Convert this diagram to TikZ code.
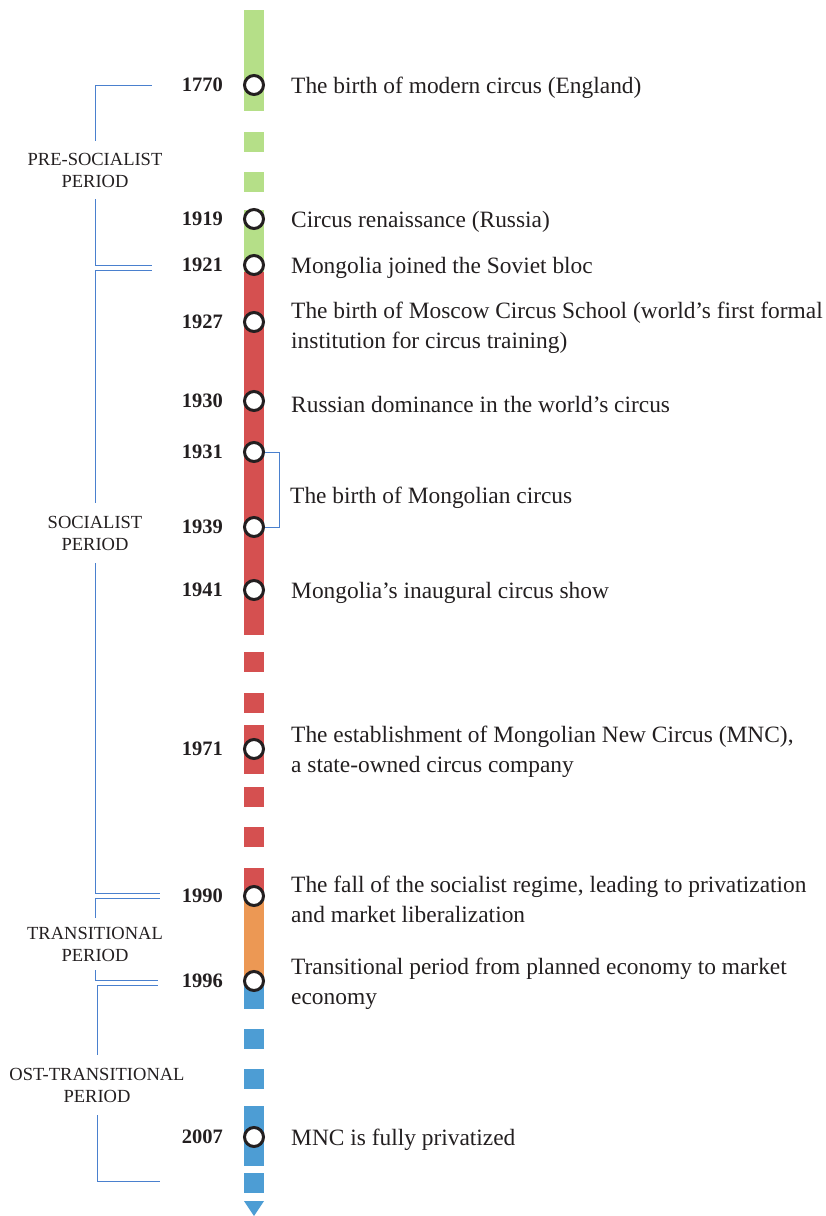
\documentclass[tikz,border=0pt]{standalone}
\usepackage{fontspec}
\setmainfont{Liberation Serif}
\usetikzlibrary{positioning}

\definecolor{barGreen}{RGB}{181,223,136}
\definecolor{barRed}{RGB}{213,80,80}
\definecolor{barOrange}{RGB}{236,152,84}
\definecolor{barBlue}{RGB}{77,157,212}
\definecolor{lineBlue}{RGB}{74,128,206}
\definecolor{ink}{RGB}{35,31,32}

\tikzset{
  dot/.style={circle, draw=ink, line width=3pt, fill=white, minimum size=19pt, inner sep=0pt},
  year/.style={inner sep=0pt, text=ink, font=\fontsize{20.5}{22}\selectfont\bfseries},
  event/.style={anchor=west, inner sep=0pt, align=left, text=ink, yshift=-3pt, font=\fontsize{23.4}{30}\selectfont},
  period/.style={lineBlue, line width=1pt},
  periodlabel/.style={inner sep=0pt, align=center, text=ink, font=\fontsize{18.5}{22}\selectfont},
}

\begin{document}
\begin{tikzpicture}[x=1pt, y=-1pt]
	\useasboundingbox (0,0) rectangle (825,1216);

	% Timeline bar
	\fill[barGreen] (244,10) rectangle (264,111);
	\foreach \y in {132,172} \fill[barGreen] (244,\y) rectangle ++(20,20);
	\fill[barGreen] (244,210) rectangle (264,272);
	\fill[barRed] (244,272) rectangle (264,635);
	\foreach \y in {652,693} \fill[barRed] (244,\y) rectangle ++(20,20);
	\fill[barRed] (244,725) rectangle (264,774);
	\foreach \y in {787,827} \fill[barRed] (244,\y) rectangle ++(20,20);
	\fill[barRed] (244,868) rectangle (264,896);
	\fill[barOrange] (244,896) rectangle (264,981);
	\fill[barBlue] (244,981) rectangle (264,1009);
	\foreach \y in {1029,1069} \fill[barBlue] (244,\y) rectangle ++(20,20);
	\fill[barBlue] (244,1106) rectangle (264,1166);
	\fill[barBlue] (244,1173) rectangle (264,1193);
	\fill[barBlue] (244,1201) -- (264,1201) -- (254,1216) -- cycle;

	% Milestones
	\node[dot] (c1770) at (254,85) {};
	\node[dot] (c1919) at (254,219) {};
	\node[dot] (c1921) at (254,265) {};
	\node[dot] (c1927) at (254,322) {};
	\node[dot] (c1930) at (254,401) {};
	\node[dot] (c1931) at (254,452) {};
	\node[dot] (c1939) at (254,527) {};
	\node[dot] (c1941) at (254,590) {};
	\node[dot] (c1971) at (254,749) {};
	\node[dot] (c1990) at (254,896) {};
	\node[dot] (c1996) at (254,981) {};
	\node[dot] (c2007) at (254,1137) {};

	% Years
	\node[year, left=20pt of c1770] (y1770) {1770};
	\node[year, left=20pt of c1919] (y1919) {1919};
	\node[year, left=20pt of c1921] (y1921) {1921};
	\node[year, left=20pt of c1927] (y1927) {1927};
	\node[year, left=20pt of c1930] (y1930) {1930};
	\node[year, left=20pt of c1931] (y1931) {1931};
	\node[year, left=20pt of c1939] (y1939) {1939};
	\node[year, left=20pt of c1941] (y1941) {1941};
	\node[year, left=20pt of c1971] (y1971) {1971};
	\node[year, left=20pt of c1990] (y1990) {1990};
	\node[year, left=20pt of c1996] (y1996) {1996};
	\node[year, left=20pt of c2007] (y2007) {2007};

	% Events
	\node[event, right=26pt of c1770] (e1770) {The birth of modern circus (England)};
	\node[event, right=26pt of c1919] (e1919) {Circus renaissance (Russia)};
	\node[event, right=26pt of c1921] (e1921) {Mongolia joined the Soviet bloc};
	\node[event, right=26pt of c1927, yshift=-3pt] (e1927) {The birth of Moscow Circus School (world's first formal\\institution for circus training)};
	\node[event, right=26pt of c1930] (e1930) {Russian dominance in the world's circus};
	\node[event] (e1931) at (290,495) {The birth of Mongolian circus};
	\node[event, right=26pt of c1941] (e1941) {Mongolia's inaugural circus show};
	\node[event, right=26pt of c1971] (e1971) {The establishment of Mongolian New Circus (MNC),\\a state-owned circus company};
	\node[event, right=26pt of c1990] (e1990) {The fall of the socialist regime, leading to privatization\\and market liberalization};
	\node[event, right=26pt of c1996] (e1996) {Transitional period from planned economy to market\\economy};
	\node[event, right=26pt of c2007] (e2007) {MNC is fully privatized};

	% Bracket 1931--1939
	\draw[period] (c1931.east) -- ++(14,0) |- (c1939.east);

	% Periods
	\node[periodlabel, minimum height=58pt] (pre) at (95,170) {PRE-SOCIALIST\\PERIOD};
	\node[periodlabel, minimum height=60pt] (soc) at (95,533) {SOCIALIST\\PERIOD};
	\node[periodlabel, minimum height=52pt] (trans) at (95,944) {TRANSITIONAL\\PERIOD};
	\node[periodlabel, minimum height=60pt] (post) at (97,1085) {OST-TRANSITIONAL\\PERIOD};

	\coordinate (preTop) at (152,85);
	\coordinate (preBot) at (152,265);
	\coordinate (socTop) at (152,270);
	\coordinate (socBot) at (160,893);
	\coordinate (transTop) at (160,898);
	\coordinate (transBot) at (158,980);
	\coordinate (postTop) at (158,985);
	\coordinate (postBot) at (160,1181);

	\draw[period] (pre.north) |- (preTop);
	\draw[period] (pre.south) |- (preBot);
	\draw[period] (soc.north) |- (socTop);
	\draw[period] (soc.south) |- (socBot);
	\draw[period] (trans.north) |- (transTop);
	\draw[period] (trans.south) |- (transBot);
	\draw[period] (post.north) |- (postTop);
	\draw[period] (post.south) |- (postBot);
\end{tikzpicture}
\end{document}
